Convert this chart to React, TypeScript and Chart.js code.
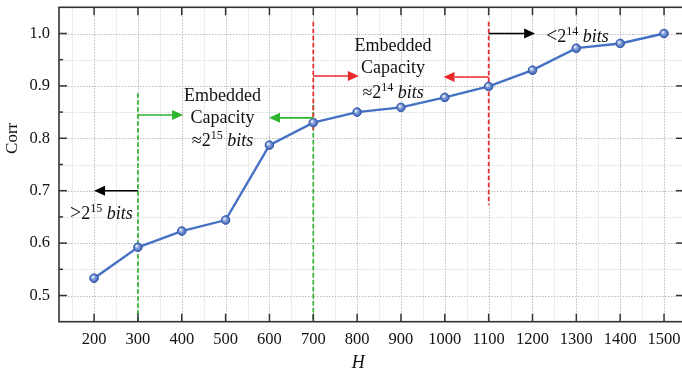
import { useEffect, useRef } from 'react';
import { Chart, registerables } from 'chart.js';

Chart.register(...registerables);

// ---- data ----
const hValues = [200, 300, 400, 500, 600, 700, 800, 900, 1000, 1100, 1200, 1300, 1400, 1500];
const corrValues = [0.533, 0.592, 0.623, 0.644, 0.787, 0.830, 0.850, 0.859, 0.878, 0.899, 0.930, 0.972, 0.981, 1.0];

const xTickValues = [200, 300, 400, 500, 600, 700, 800, 900, 1000, 1100, 1200, 1300, 1400, 1500];
const yTickValues = [0.5, 0.6, 0.7, 0.8, 0.9, 1.0];
const xMinorGrid = [150, 250, 350, 450, 550, 650, 750, 850, 950, 1050, 1150, 1250, 1350, 1450];
const yMinorGrid = [0.55, 0.65, 0.75, 0.85, 0.95];
const xRange = [120, 1541];
const yRange = [0.45, 1.05];

// vertical dashed guides
const guideX = [300, 700, 700, 1100];
const guideFrom = [0.45, 0.45, 0.8165, 0.6727];
const guideTo = [0.886, 0.8635, 1.0225, 1.0225];
const guideKind = ['green', 'green', 'red', 'red'];

// arrows
const arrowFrom = [300, 700, 700, 1100, 1100, 300];
const arrowTo = [403, 599, 804, 997, 1206, 200];
const arrowY = [0.8445, 0.839, 0.919, 0.917, 1.0, 0.7];
const arrowKind = ['green', 'green', 'red', 'red', 'black', 'black'];

// text notes
const capacityLines = ['Embedded', 'Capacity'];
const capacityNoteX = [493, 882];
const capacityNoteY = [
  [0.8718, 0.8286, 0.7859],
  [0.9666, 0.924, 0.8763],
];
const capacityExp = ['15', '14'];
const boundSymbol = ['<', '>'];
const boundExp = ['14', '15'];
const boundX = [1231, 145];
const boundY = [0.9843, 0.6454];

// ---- styles ----
const SERIF = '"Liberation Serif", "Times New Roman", serif';
const KIND_COLOR: Record<string, string> = { green: '#2fb52f', red: '#e8292b', black: '#000000' };
const LINE_COLOR = '#4571c4';

type Seg = { t: string; font: string; rise?: number };

function drawRich(ctx: CanvasRenderingContext2D, segs: Seg[], x: number, y: number, align: 'center' | 'left') {
  let w = 0;
  const widths = segs.map((s) => {
    ctx.font = s.font;
    const m = ctx.measureText(s.t).width;
    w += m;
    return m;
  });
  let cx = align === 'center' ? x - w / 2 : x;
  ctx.textAlign = 'left';
  ctx.textBaseline = 'alphabetic';
  segs.forEach((s, i) => {
    ctx.font = s.font;
    ctx.fillText(s.t, cx, y - (s.rise || 0));
    cx += widths[i];
  });
}

const zeroPad = (s: any) => {
  s.paddingLeft = 0;
  s.paddingRight = 0;
  s.paddingTop = 0;
  s.paddingBottom = 0;
};

const decorPlugin = {
  id: 'decor',
  beforeDatasetsDraw(chart: any) {
    const { ctx, chartArea: a } = chart;
    const xs = chart.scales.x;
    const ys = chart.scales.y;
    ctx.save();
    // minor grid
    ctx.strokeStyle = '#ececec';
    ctx.lineWidth = 1;
    ctx.setLineDash([]);
    xMinorGrid.forEach((v) => {
      const px = Math.round(xs.getPixelForValue(v)) + 0.5;
      ctx.beginPath(); ctx.moveTo(px, a.top); ctx.lineTo(px, a.bottom); ctx.stroke();
    });
    yMinorGrid.forEach((v) => {
      const py = Math.round(ys.getPixelForValue(v)) + 0.5;
      ctx.beginPath(); ctx.moveTo(a.left, py); ctx.lineTo(a.right, py); ctx.stroke();
    });
    // major grid
    ctx.strokeStyle = '#bcbcbc';
    ctx.setLineDash([1.5, 1.5]);
    xTickValues.forEach((v) => {
      const px = Math.round(xs.getPixelForValue(v)) + 0.5;
      ctx.beginPath(); ctx.moveTo(px, a.top); ctx.lineTo(px, a.bottom); ctx.stroke();
    });
    yTickValues.forEach((v) => {
      const py = Math.round(ys.getPixelForValue(v)) + 0.5;
      ctx.beginPath(); ctx.moveTo(a.left, py); ctx.lineTo(a.right, py); ctx.stroke();
    });
    // dashed guides
    ctx.lineWidth = 1.7;
    ctx.setLineDash([4.5, 2.5]);
    guideX.forEach((v, i) => {
      const px = xs.getPixelForValue(v);
      ctx.strokeStyle = KIND_COLOR[guideKind[i]];
      ctx.beginPath();
      ctx.moveTo(px, ys.getPixelForValue(guideTo[i]));
      ctx.lineTo(px, ys.getPixelForValue(guideFrom[i]));
      ctx.stroke();
    });
    ctx.restore();
  },
  afterDatasetsDraw(chart: any) {
    const { ctx } = chart;
    const xs = chart.scales.x;
    const ys = chart.scales.y;
    ctx.save();
    // point highlights
    const meta = chart.getDatasetMeta(0);
    meta.data.forEach((pt: any) => {
      const g = ctx.createRadialGradient(pt.x - 1.4, pt.y - 1.4, 0.3, pt.x, pt.y, 4.4);
      g.addColorStop(0, '#eef2fb');
      g.addColorStop(0.45, '#7c98d6');
      g.addColorStop(1, '#3b5fae');
      ctx.fillStyle = g;
      ctx.beginPath(); ctx.arc(pt.x, pt.y, 4.2, 0, Math.PI * 2); ctx.fill();
      ctx.strokeStyle = '#3a5dab';
      ctx.lineWidth = 0.8;
      ctx.stroke();
    });
    // arrows
    ctx.setLineDash([]);
    arrowFrom.forEach((v, i) => {
      const x0 = xs.getPixelForValue(v);
      const x1 = xs.getPixelForValue(arrowTo[i]);
      const py = ys.getPixelForValue(arrowY[i]);
      const dir = x1 > x0 ? 1 : -1;
      const head = 11;
      const col = KIND_COLOR[arrowKind[i]];
      ctx.strokeStyle = col;
      ctx.fillStyle = col;
      ctx.lineWidth = 1.6;
      ctx.beginPath(); ctx.moveTo(x0, py); ctx.lineTo(x1 - dir * head, py); ctx.stroke();
      ctx.beginPath();
      ctx.moveTo(x1, py);
      ctx.lineTo(x1 - dir * head, py - 5);
      ctx.lineTo(x1 - dir * head, py + 5);
      ctx.closePath();
      ctx.fill();
    });
    // text notes
    ctx.fillStyle = '#111';
    const big = `18px ${SERIF}`;
    const sup = `12px ${SERIF}`;
    const ital = `italic 18px ${SERIF}`;
    capacityNoteX.forEach((v, i) => {
      const px = xs.getPixelForValue(v);
      const yl = capacityNoteY[i];
      capacityLines.forEach((t, j) => {
        drawRich(ctx, [{ t, font: big }], px, ys.getPixelForValue(yl[j]), 'center');
      });
      drawRich(ctx, [
        { t: '\u22482', font: big },
        { t: capacityExp[i], font: sup, rise: 7 },
        { t: ' bits', font: ital },
      ], px, ys.getPixelForValue(yl[2]), 'center');
    });
    boundX.forEach((v, i) => {
      drawRich(ctx, [
        { t: boundSymbol[i], font: `20px ${SERIF}` },
        { t: '2', font: big },
        { t: boundExp[i], font: sup, rise: 7 },
        { t: ' bits', font: ital },
      ], xs.getPixelForValue(v), ys.getPixelForValue(boundY[i]), 'left');
    });
    ctx.restore();
  },
  afterDraw(chart: any) {
    const { ctx, chartArea: a } = chart;
    const xs = chart.scales.x;
    const ys = chart.scales.y;
    ctx.save();
    ctx.strokeStyle = '#333';
    ctx.lineWidth = 1.6;
    ctx.setLineDash([]);
    ctx.strokeRect(a.left, a.top, a.right - a.left + 2, a.bottom - a.top);
    ctx.lineWidth = 1.5;
    xTickValues.forEach((v) => {
      const px = xs.getPixelForValue(v);
      ctx.beginPath(); ctx.moveTo(px, a.bottom); ctx.lineTo(px, a.bottom - 8); ctx.stroke();
      ctx.beginPath(); ctx.moveTo(px, a.top); ctx.lineTo(px, a.top + 8); ctx.stroke();
    });
    yTickValues.forEach((v) => {
      const py = ys.getPixelForValue(v);
      ctx.beginPath(); ctx.moveTo(a.left, py); ctx.lineTo(a.left + 8, py); ctx.stroke();
      ctx.beginPath(); ctx.moveTo(a.right, py); ctx.lineTo(a.right - 6, py); ctx.stroke();
    });
    yMinorGrid.forEach((v) => {
      const py = ys.getPixelForValue(v);
      ctx.beginPath(); ctx.moveTo(a.left, py); ctx.lineTo(a.left + 4, py); ctx.stroke();
    });
    // axis titles
    ctx.fillStyle = '#111';
    ctx.textAlign = 'center';
    ctx.textBaseline = 'middle';
    ctx.font = `italic 18px ${SERIF}`;
    ctx.fillText('H', xs.getPixelForValue(800) + 1, 363);
    ctx.translate(12.5, ys.getPixelForValue(0.8));
    ctx.rotate(-Math.PI / 2);
    ctx.font = `17px ${SERIF}`;
    ctx.fillText('Corr', 0, 0);
    ctx.restore();
  },
};

export default function App() {
  const ref = useRef<HTMLCanvasElement | null>(null);
  useEffect(() => {
    if (!ref.current) return;
    const chart = new Chart(ref.current, {
      type: 'line',
      data: {
        datasets: [
          {
            data: hValues.map((h, i) => ({ x: h, y: corrValues[i] })),
            borderColor: LINE_COLOR,
            borderWidth: 2.4,
            pointRadius: 4.2,
            pointBackgroundColor: LINE_COLOR,
            pointBorderColor: '#3a5dab',
            pointBorderWidth: 0.8,
            tension: 0,
            fill: false,
            clip: false,
          },
        ],
      },
      options: {
        animation: false,
        responsive: false,
        devicePixelRatio: 1,
        layout: { autoPadding: false, padding: { top: 7.3, right: 0, left: 0, bottom: 0 } },
        plugins: { legend: { display: false }, tooltip: { enabled: false } },
        scales: {
          x: {
            type: 'linear',
            min: xRange[0],
            max: xRange[1],
            grid: { display: false, drawTicks: false },
            border: { display: false },
            afterBuildTicks: (s: any) => { s.ticks = xTickValues.map((v) => ({ value: v })); },
            afterFit: (s: any) => { s.height = 51.3; zeroPad(s); },
            ticks: {
              autoSkip: false,
              maxRotation: 0,
              padding: 8,
              color: '#111',
              font: { family: SERIF, size: 16.5 },
              callback: (v: any) => String(v),
            },
          },
          y: {
            type: 'linear',
            min: yRange[0],
            max: yRange[1],
            grid: { display: false, drawTicks: false },
            border: { display: false },
            afterBuildTicks: (s: any) => { s.ticks = yTickValues.map((v) => ({ value: v })); },
            afterFit: (s: any) => { s.width = 59; zeroPad(s); },
            ticks: {
              autoSkip: false,
              padding: 9,
              color: '#111',
              font: { family: SERIF, size: 16.5 },
              callback: (v: any) => Number(v).toFixed(1),
            },
          },
        },
      },
      plugins: [decorPlugin],
    } as any);
    return () => chart.destroy();
  }, []);
  return (
    <div style={{ position: 'fixed', left: 0, top: 0, width: 682, height: 373, background: '#fff' }}>
      <canvas ref={ref} width={682} height={373} style={{ display: 'block' }} />
    </div>
  );
}
